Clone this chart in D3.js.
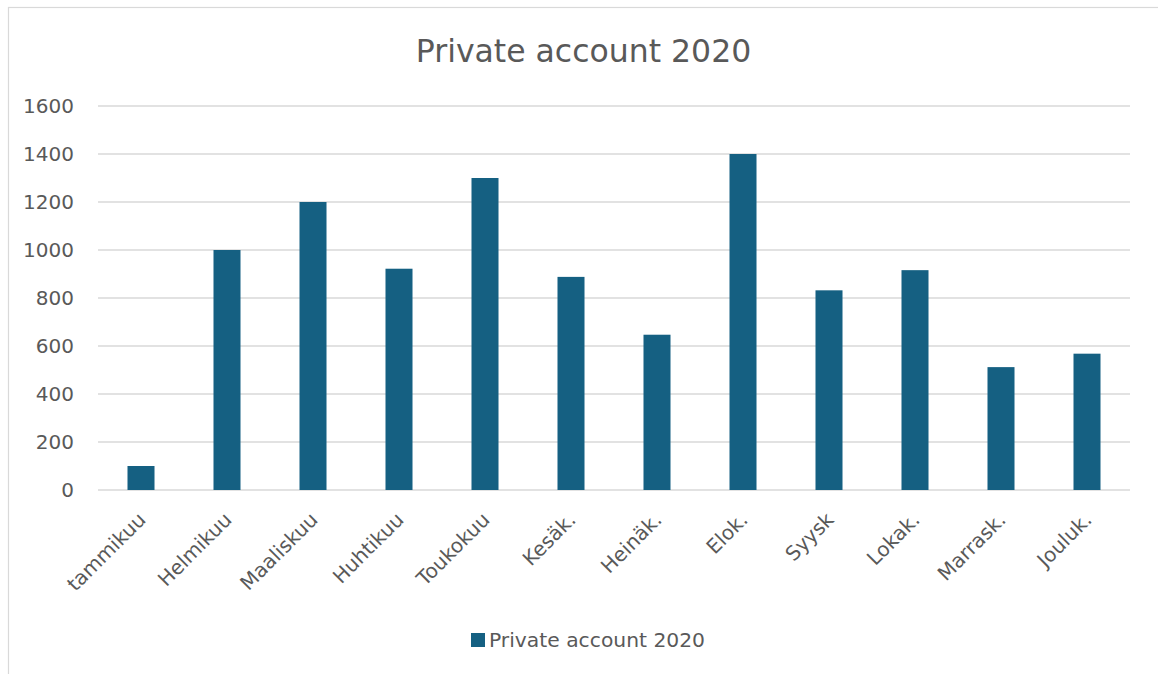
<!DOCTYPE html>
<html><head><meta charset="utf-8">
<script src="https://cdn.jsdelivr.net/npm/d3@7"></script>
<style>html,body{margin:0;padding:0;background:#fff;}svg{display:block;font-family:"DejaVu Sans",sans-serif;}</style>
</head><body>
<svg id="c" width="1158" height="674"></svg>
<script>
const categories = ["tammikuu","Helmikuu","Maaliskuu","Huhtikuu","Toukokuu","Kesäk.","Heinäk.","Elok.","Syysk","Lokak.","Marrask.","Jouluk."];
const values = [100, 1000, 1200, 922, 1300, 888, 647, 1400, 832, 916, 512, 568];
const yTicks = [0, 200, 400, 600, 800, 1000, 1200, 1400, 1600];
const seriesName = "Private account 2020";
const title = "Private account 2020";

const svg = d3.select("#c");
const W = 1158, H = 674;
const m = {left: 98, right: 1130, top: 106, bottom: 490};
const color = "#156082";
const textColor = "#595959";
const font = "DejaVu Sans, sans-serif";

svg.append("rect").attr("x", 8.5).attr("y", 7.5).attr("width", W + 10).attr("height", H + 10)
  .attr("fill", "#fff").attr("stroke", "#d9d9d9").attr("stroke-width", 1.2);

const x = d3.scaleBand().domain(categories).range([m.left, m.right]).paddingInner(0.686).paddingOuter(0.343);
const y = d3.scaleLinear().domain([0, 1600]).range([m.bottom, m.top]);

// gridlines
svg.append("g").selectAll("line").data(yTicks).join("line")
  .attr("x1", m.left).attr("x2", m.right)
  .attr("y1", d => y(d)).attr("y2", d => y(d))
  .attr("stroke", "#d9d9d9").attr("stroke-width", 1.5);

// y axis labels
const yAxis = d3.axisLeft(y).tickValues(yTicks).tickFormat(d3.format("d")).tickSize(0).tickPadding(0);
const gy = svg.append("g").attr("transform", `translate(74,0)`).call(yAxis);
gy.select(".domain").remove();
gy.selectAll("text").attr("font-size", 20).attr("fill", textColor).attr("font-family", font);

// bars
svg.append("g").selectAll("rect").data(values).join("rect")
  .attr("x", (d, i) => x(categories[i]))
  .attr("y", d => y(d))
  .attr("width", x.bandwidth())
  .attr("height", d => y(0) - y(d))
  .attr("fill", color);

// x axis labels
const xAxis = d3.axisBottom(x).tickSize(0).tickPadding(0);
const gx = svg.append("g").attr("transform", `translate(0,${m.bottom})`).call(xAxis);
gx.select(".domain").remove();
gx.selectAll("text")
  .attr("font-size", 20).attr("fill", textColor).attr("font-family", font)
  .attr("text-anchor", "end").attr("dy", "0.35em")
  .attr("transform", "translate(1,26) rotate(-45)")
  .attr("y", 0).attr("x", 0);

// title
svg.append("text").attr("x", 583.5).attr("y", 62).attr("text-anchor", "middle")
  .attr("font-size", 31.5).attr("fill", textColor).attr("font-family", font).text(title);

// legend
const lg = svg.append("g").attr("transform", "translate(471,640)");
lg.append("rect").attr("x", 0).attr("y", -7).attr("width", 14).attr("height", 14).attr("fill", color);
lg.append("text").attr("x", 18).attr("y", 0).attr("dy", "0.36em").attr("font-size", 20.3).attr("fill", textColor).attr("font-family", font).text(seriesName);
</script>
</body></html>
